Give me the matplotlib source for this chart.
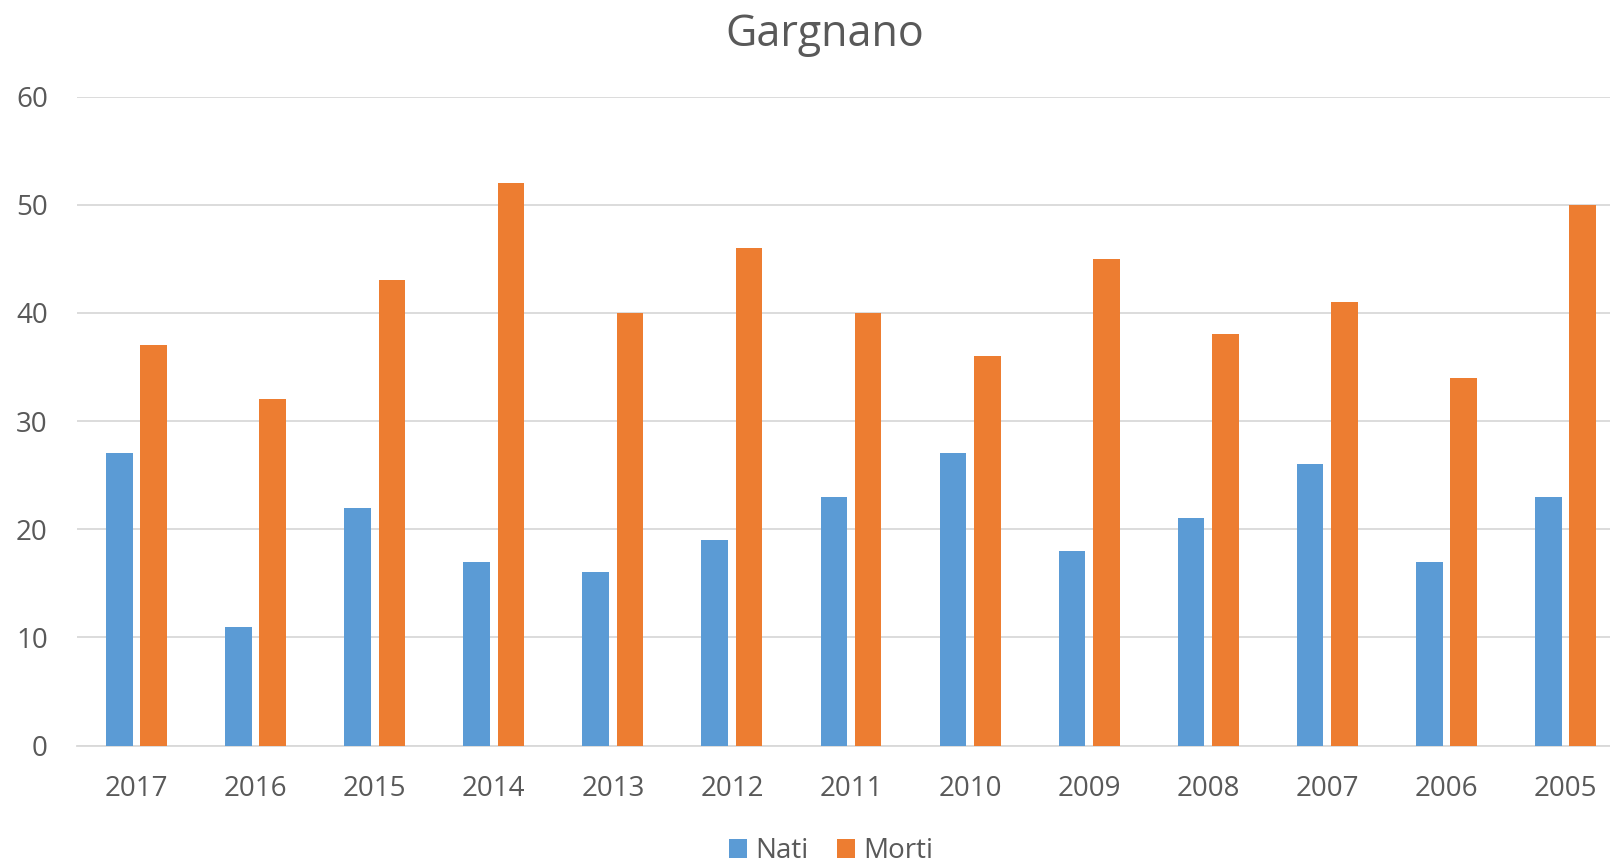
import matplotlib.pyplot as plt
import numpy as np

anni = ['2017', '2016', '2015', '2014', '2013', '2012', '2011', '2010',
        '2009', '2008', '2007', '2006', '2005']
nati = [27, 11, 22, 17, 16, 19, 23, 27, 18, 21, 26, 17, 23]
morti = [37, 32, 43, 52, 40, 46, 40, 36, 45, 38, 41, 34, 50]

plt.rcParams['font.family'] = ['Open Sans', 'DejaVu Sans']
testo = '#595959'
griglia = '#D9D9D9'

W, H = 1610, 864
fig = plt.figure(figsize=(W / 100, H / 100), dpi=100)
# area del grafico (in pixel), tagliata a destra come nell'originale
x0, x1 = 77, 1625
y_top, y_bot = 96.5, 745.5
ax = fig.add_axes([x0 / W, (H - y_bot) / H, (x1 - x0) / W, (y_bot - y_top) / H])

x = np.arange(len(anni))
w = 0.224
off = 0.144
ax.bar(x - off, nati, w, color='#5B9BD5', label='Nati', zorder=3)
ax.bar(x + off, morti, w, color='#ED7D31', label='Morti', zorder=3)

ax.set_xlim(-0.5, len(anni) - 0.5)
ax.set_ylim(0, 60)
ax.set_yticks(range(0, 61, 10))
ax.set_xticks(x)
ax.set_xticklabels(anni)
ax.yaxis.grid(True, color=griglia, linewidth=1.3, zorder=0)
ax.set_axisbelow(True)
for s in ['top', 'right', 'left']:
    ax.spines[s].set_visible(False)
ax.spines['bottom'].set_color(griglia)
ax.spines['bottom'].set_linewidth(1.3)
ax.tick_params(axis='both', length=0, labelsize=20, labelcolor=testo)
ax.tick_params(axis='y', pad=21)
ax.tick_params(axis='x', pad=21.5)

fig.text(825 / W, 1 - 35 / H, 'Gargnano', ha='center', va='center',
         fontsize=31, color=testo)

fig.legend(loc='center', bbox_to_anchor=(831 / W, 1 - 851 / H), ncol=2,
           frameon=False, fontsize=20, labelcolor=testo, handlelength=0.65,
           handleheight=0.65, handletextpad=0.3, columnspacing=1.0)

fig.savefig('out.png', dpi=100)
